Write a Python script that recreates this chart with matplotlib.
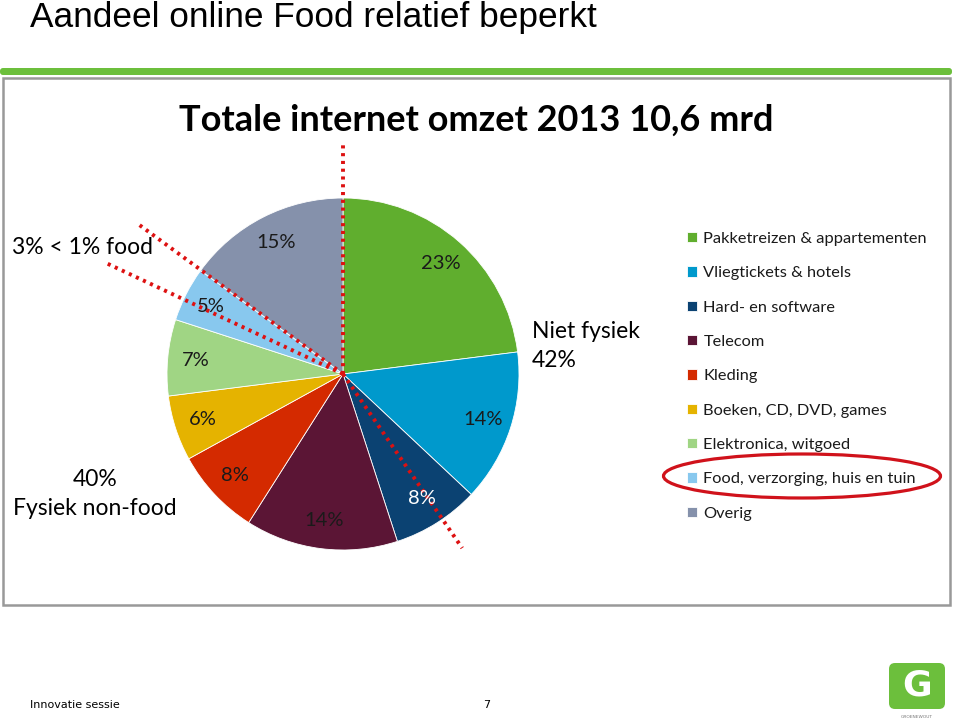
import numpy as np
import matplotlib
matplotlib.use("Agg")
import matplotlib.pyplot as plt
from matplotlib.patches import Ellipse, Rectangle, FancyBboxPatch

# ---- data ----
categories = ["Pakketreizen & appartementen", "Vliegtickets & hotels", "Hard- en software",
              "Telecom", "Kleding", "Boeken, CD, DVD, games", "Elektronica, witgoed",
              "Food, verzorging, huis en tuin", "Overig"]
shares = [23, 14, 8, 14, 8, 6, 7, 5, 15]
colors = ["#60ae2e", "#0099cc", "#0b4272", "#5b1535", "#d42a00", "#e5b300",
          "#a0d584", "#88c8ee", "#8591ab"]

slide_title = "Aandeel online Food relatief beperkt"
chart_title = "Totale internet omzet 2013 10,6 mrd"
note_food = "3% < 1% food"
note_online = "Niet fysiek\n42%"
note_nonfood = "40%\nFysiek non-food"
footer_left = "Innovatie sessie"
footer_page = "7"

W, H = 960, 722
fig = plt.figure(figsize=(W / 100, H / 100), dpi=100)
ax = fig.add_axes([0, 0, 1, 1])

def Y(py):
    return H - py

cx, cy, r = 343, Y(374), 176

wedges, texts, autotexts = ax.pie(
    shares, colors=colors, startangle=90, counterclock=False,
    center=(cx, cy), radius=r, autopct="%1.0f%%", pctdistance=0.84,
    wedgeprops=dict(edgecolor="white", linewidth=0.6),
    textprops=dict(fontsize=14.5, family=["Lato", "DejaVu Sans"], color="#1a1a1a"))
autotexts[2].set_color("white")

ax.set_xlim(0, W)
ax.set_ylim(0, H)
ax.set_aspect("auto")
ax.axis("off")

# slide title and green bar
ax.text(30, Y(18), slide_title, fontsize=25.4, family=["Liberation Sans", "DejaVu Sans"],
        va="center", ha="left", color="black")
ax.add_patch(FancyBboxPatch((0, Y(75)), 952, 7, boxstyle="round,pad=0,rounding_size=3",
                            facecolor="#6cbf3c", edgecolor="none"))
# chart frame
ax.add_patch(Rectangle((3, Y(605)), 947, 527, facecolor="none", edgecolor="#999999", linewidth=1.8))

ax.text(476, Y(120), chart_title, fontsize=26, fontweight="bold",
        family=["Lato", "DejaVu Sans"], ha="center", va="center", color="black")

# legend
leg = ax.legend(wedges, categories, loc="upper left", bbox_to_anchor=(687, Y(232)),
                bbox_transform=ax.transData, frameon=False,
                prop=dict(family=["Lato", "DejaVu Sans"], size=11.8),
                handlelength=0.6, handleheight=0.6, handletextpad=0.4,
                labelspacing=1.24, borderpad=0, borderaxespad=0)
for t in leg.get_texts():
    t.set_color("#1a1a1a")

# red ellipse around Food legend entry
ax.add_patch(Ellipse((802, Y(476)), 277, 44, facecolor="none", edgecolor="#d0121b", linewidth=2.3))

# red dotted divider lines from pie centre (angle deg, length px)
divider_angles = [90, 143.8, 154.9, -55.6]
divider_lengths = [229, 254, 264, 211]
for a, L in zip(divider_angles, divider_lengths):
    t = np.deg2rad(a)
    ax.plot([cx, cx + L * np.cos(t)], [cy, cy + L * np.sin(t)], color="#dd1111",
            linestyle=(0, (0.8, 1.2)), linewidth=2.8, solid_capstyle="butt")

# annotations
ann_font = ["Lato", "DejaVu Sans"]
ax.text(12, Y(247), note_food, fontsize=16.5, family=ann_font, ha="left", va="center")
ax.text(532, Y(346), note_online, fontsize=16.5, family=ann_font, ha="left", va="center",
        linespacing=1.5)
ax.text(95, Y(494), note_nonfood, fontsize=16.5, family=ann_font, ha="center", va="center",
        linespacing=1.5)

# footer
ax.text(30, Y(705), footer_left, fontsize=8, family="DejaVu Sans", ha="left", va="center")
ax.text(487, Y(705), footer_page, fontsize=8, family="DejaVu Sans", ha="center", va="center")

# logo
ax.add_patch(FancyBboxPatch((889, Y(709)), 56, 46, boxstyle="round,pad=0,rounding_size=6",
                            facecolor="#6cbf3c", edgecolor="none"))
ax.text(917, Y(686), "G", fontsize=26, fontweight="bold", color="white", ha="center",
        va="center", family="DejaVu Sans")
ax.text(917, Y(717), "GROENEWOUT", fontsize=3.2, color="#777777", ha="center", va="center",
        family="DejaVu Sans")

fig.savefig("out.png", dpi=100)
